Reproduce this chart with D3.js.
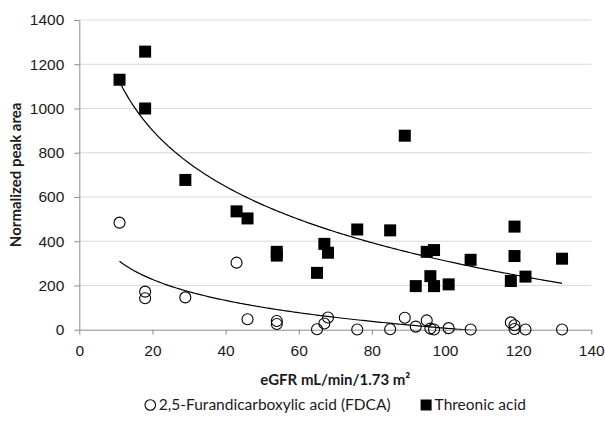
<!DOCTYPE html>
<html>
<head>
<meta charset="utf-8">
<script src="https://cdn.jsdelivr.net/npm/d3@7"></script>
<style>
  body { margin: 0; background: #fff; }
  svg { font-family: Lato, "Open Sans", sans-serif; }
</style>
</head>
<body>
<div id="chart"></div>
<script>
const WIDTH = 605;
const HEIGHT = 428;

// 2,5-Furandicarboxylic acid (open circles)
const fdcaEgfr = [11, 18, 18, 29, 43, 46, 54, 54, 65, 67, 68, 76, 85, 89, 92, 95, 96, 97, 101, 107, 118, 119, 119, 122, 132];
const fdcaArea = [484, 172, 142, 146, 303, 47, 39, 26, 2, 28, 55, 1, 2, 54, 14, 42, 5, 1, 7, 1, 33, 20, 3, 1, 1];

// Threonic acid (filled squares)
const threonicEgfr = [11, 18, 18, 29, 43, 46, 54, 54, 65, 67, 68, 76, 85, 89, 92, 95, 96, 97, 97, 101, 107, 118, 119, 119, 122, 132];
const threonicArea = [1130, 1257, 1000, 677, 535, 503, 352, 335, 257, 388, 348, 453, 449, 877, 197, 352, 242, 360, 197, 205, 316, 220, 466, 333, 240, 321];

const xTicks = [0, 20, 40, 60, 80, 100, 120, 140];
const yTicks = [0, 200, 400, 600, 800, 1000, 1200, 1400];
const seriesNames = ['2,5-Furandicarboxylic acid (FDCA)', 'Threonic acid'];
const xTitle = 'eGFR mL/min/1.73 m²';
const yTitle = 'Normalized peak area';

const plot = { left: 79.3, right: 591.3, top: 20, bottom: 329.7 };

// logarithmic trendline, y = a + b ln(x), least squares like the spreadsheet does
function logFit(xs, ys) {
  const lx = xs.map(Math.log);
  const mx = d3.mean(lx);
  const my = d3.mean(ys);
  const b = d3.sum(lx, (v, i) => (v - mx) * (ys[i] - my)) / d3.sum(lx, v => (v - mx) ** 2);
  return { a: my - b * mx, b };
}

const x = d3.scaleLinear().domain([0, 140]).range([plot.left, plot.right]);
const y = d3.scaleLinear().domain([0, 1400]).range([plot.bottom, plot.top]);

const svg = d3.select('#chart')
  .append('svg')
  .attr('width', WIDTH)
  .attr('height', HEIGHT);

svg.append('defs').append('clipPath')
  .attr('id', 'plot-clip')
  .append('rect')
  .attr('x', plot.left)
  .attr('y', plot.top)
  .attr('width', plot.right - plot.left)
  .attr('height', plot.bottom - plot.top);

// gridlines
svg.append('g')
  .selectAll('line')
  .data(yTicks.filter(t => t > 0))
  .enter()
  .append('line')
  .attr('x1', plot.left)
  .attr('x2', plot.right)
  .attr('y1', d => y(d))
  .attr('y2', d => y(d))
  .attr('stroke', '#d9d9d9')
  .attr('stroke-width', 1);

// axes
const yAxis = svg.append('g')
  .attr('transform', `translate(${plot.left},0)`)
  .call(d3.axisLeft(y).tickValues(yTicks).tickFormat(d3.format('d'))
    .tickSize(5).tickSizeOuter(0).tickPadding(10));

const xAxis = svg.append('g')
  .attr('transform', `translate(0,${plot.bottom})`)
  .call(d3.axisBottom(x).tickValues(xTicks).tickFormat(d3.format('d'))
    .tickSize(5).tickSizeOuter(0).tickPadding(10));

[xAxis, yAxis].forEach(g => {
  g.selectAll('path, line').attr('stroke', '#8c8c8c');
  g.selectAll('text').attr('fill', '#1a1a1a').style('font-size', '15.5px');
});

// markers
svg.append('g')
  .selectAll('circle')
  .data(fdcaEgfr.map((e, i) => [e, fdcaArea[i]]))
  .enter()
  .append('circle')
  .attr('cx', d => x(d[0]))
  .attr('cy', d => y(d[1]))
  .attr('r', 5.5)
  .attr('fill', 'none')
  .attr('stroke', '#000')
  .attr('stroke-width', 1.1);

const sq = 12;
svg.append('g')
  .selectAll('rect')
  .data(threonicEgfr.map((e, i) => [e, threonicArea[i]]))
  .enter()
  .append('rect')
  .attr('x', d => x(d[0]) - sq / 2)
  .attr('y', d => y(d[1]) - sq / 2)
  .attr('width', sq)
  .attr('height', sq)
  .attr('fill', '#000');

// trendlines
const trendLine = d3.line().x(d => x(d[0])).y(d => y(d[1]));
[[fdcaEgfr, fdcaArea], [threonicEgfr, threonicArea]].forEach(([xs, ys]) => {
  const fit = logFit(xs, ys);
  const [lo, hi] = d3.extent(xs);
  const pts = d3.range(0, 201).map(k => {
    const v = lo + (hi - lo) * k / 200;
    return [v, fit.a + fit.b * Math.log(v)];
  });
  svg.append('path')
    .attr('clip-path', 'url(#plot-clip)')
    .attr('d', trendLine(pts))
    .attr('fill', 'none')
    .attr('stroke', '#000')
    .attr('stroke-width', 1.2);
});

// axis titles
svg.append('text')
  .attr('transform', `translate(16,${(plot.top + plot.bottom) / 2}) rotate(-90)`)
  .attr('text-anchor', 'middle')
  .attr('dy', '0.35em')
  .style('font-size', '15px')
  .style('font-weight', 'bold')
  .attr('fill', '#1a1a1a')
  .text(yTitle);

svg.append('text')
  .attr('x', (plot.left + plot.right) / 2)
  .attr('y', 380)
  .attr('text-anchor', 'middle')
  .attr('dy', '0.35em')
  .style('font-size', '15px')
  .style('font-weight', 'bold')
  .attr('fill', '#1a1a1a')
  .text(xTitle);

// legend
const legend = svg.append('g');
const legendY = 405;
const label1 = legend.append('text')
  .attr('x', 14).attr('y', legendY).attr('dy', '0.35em')
  .style('font-size', '15.5px').attr('fill', '#1a1a1a')
  .text(seriesNames[0]);
legend.append('circle')
  .attr('cx', 5.5).attr('cy', legendY).attr('r', 5.3)
  .attr('fill', 'none').attr('stroke', '#000').attr('stroke-width', 1.1);
const w1 = label1.node().getComputedTextLength();
const sqX = 14 + w1 + 30;
legend.append('rect')
  .attr('x', sqX).attr('y', legendY - 5.5).attr('width', 11).attr('height', 11)
  .attr('fill', '#000');
const label2 = legend.append('text')
  .attr('x', sqX + 14).attr('y', legendY).attr('dy', '0.35em')
  .style('font-size', '15.5px').attr('fill', '#1a1a1a')
  .text(seriesNames[1]);
const total = sqX + 14 + label2.node().getComputedTextLength();
legend.attr('transform', `translate(${(plot.left + plot.right) / 2 - total / 2},0)`);
</script>
</body>
</html>
